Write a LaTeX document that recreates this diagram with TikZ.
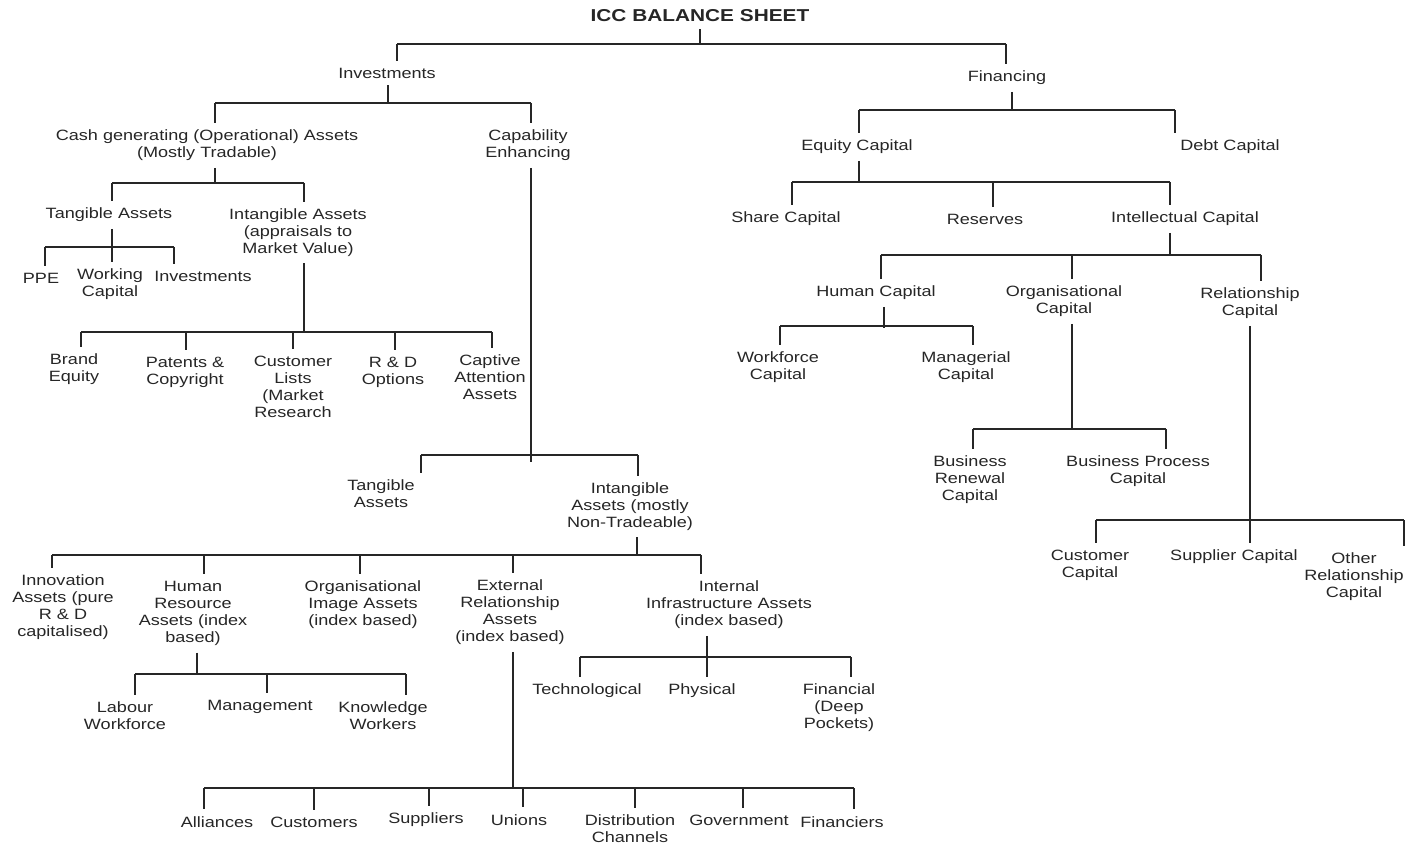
\documentclass[tikz,border=0pt]{standalone}
\usepackage{fontspec}
\setmainfont{Liberation Sans}[FakeStretch=1.21]
\definecolor{inkGray}{HTML}{262626}

\begin{document}
\begin{tikzpicture}[x=0.02cm, y=-0.02cm,
  lbl/.style={align=center, inner sep=0pt, outer ysep=4pt, text=inkGray,
              font=\fontsize{8.5}{9.64}\selectfont},
  ttl/.style={lbl, font=\fontsize{9.8}{11}\selectfont\bfseries},
  link/.style={draw=inkGray, line width=1pt}
]
\useasboundingbox (0,0) rectangle (1409,844);

% top of the sheet
\node[ttl] (title) at (700,16) {ICC BALANCE SHEET};
\node[lbl] (inv) at (387,73) {Investments};
\node[lbl] (fin) at (1007,78) {Financing};

% investments side
\node[lbl] (cash) at (207,145.5) {Cash generating (Operational) Assets\\(Mostly Tradable)};
\node[lbl] (capE) at (528,145.5) {Capability\\Enhancing};
\node[lbl] (tanA) at (109,215) {Tangible Assets};
\node[lbl] (intA) at (298,232.5) {Intangible Assets\\(appraisals to\\Market Value)};
\node[lbl] (ppe) at (41,278) {PPE};
\node[lbl] (work) at (110,284.5) {Working\\Capital};
\node[lbl] (inv2) at (203,276) {Investments};
\node[lbl] (brand) at (74,369) {Brand\\Equity};
\node[lbl] (pat) at (185,372) {Patents \&\\Copyright};
\node[lbl] (cust) at (293,386.5) {Customer\\Lists\\(Market\\Research};
\node[lbl] (rd) at (393,372) {R \& D\\Options};
\node[lbl] (capt) at (490,377.5) {Captive\\Attention\\Assets};
\node[lbl] (tan2) at (381,494) {Tangible\\Assets};
\node[lbl] (int2) at (630,506.5) {Intangible\\Assets (mostly\\Non-Tradeable)};
\node[lbl] (innov) at (63,607.5) {Innovation\\Assets (pure\\R \& D\\capitalised)};
\node[lbl] (hr) at (193,613.5) {Human\\Resource\\Assets (index\\based)};
\node[lbl] (oimg) at (363,605) {Organisational\\Image Assets\\(index based)};
\node[lbl] (ext) at (510,612.5) {External\\Relationship\\Assets\\(index based)};
\node[lbl] (intl) at (729,605) {Internal\\Infrastructure Assets\\(index based)};
\node[lbl] (lab) at (125,715.5) {Labour\\Workforce};
\node[lbl] (mgmt) at (260,707) {Management};
\node[lbl] (know) at (383,715.5) {Knowledge\\Workers};
\node[lbl] (tech) at (587,691) {Technological};
\node[lbl] (phys) at (702,691) {Physical};
\node[lbl] (finl) at (839,708) {Financial\\(Deep\\Pockets)};
\node[lbl] (alli) at (217,822) {Alliances};
\node[lbl] (custs) at (314,822) {Customers};
\node[lbl] (supp) at (426,820) {Suppliers};
\node[lbl] (uni) at (519,820) {Unions};
\node[lbl] (dist) at (630,828.5) {Distribution\\Channels};
\node[lbl] (gov) at (739,820) {Government};
\node[lbl] (fins) at (842,822) {Financiers};

% financing side
\node[lbl] (eq) at (857,147) {Equity Capital};
\node[lbl] (debt) at (1230,147) {Debt Capital};
\node[lbl] (share) at (786,219) {Share Capital};
\node[lbl] (res) at (985,219) {Reserves};
\node[lbl] (intc) at (1185,219) {Intellectual Capital};
\node[lbl] (hum) at (876,293) {Human Capital};
\node[lbl] (org) at (1064,301.5) {Organisational\\Capital};
\node[lbl] (rel) at (1250,303.5) {Relationship\\Capital};
\node[lbl] (wf) at (778,367) {Workforce\\Capital};
\node[lbl] (mg) at (966,367) {Managerial\\Capital};
\node[lbl] (ren) at (970,479.5) {Business\\Renewal\\Capital};
\node[lbl] (proc) at (1138,471.5) {Business Process\\Capital};
\node[lbl] (ccap) at (1090,565.5) {Customer\\Capital};
\node[lbl] (scap) at (1234,557) {Supplier Capital};
\node[lbl] (orel) at (1354,577) {Other\\Relationship\\Capital};

% tree lines
\draw[link] (title.south -| 700,0) -- (700,44);
\draw[link] (397,44) -- (1006,44);
\foreach \n/\x in {inv/397, fin/1006}
  \draw[link] (\x,44) -- (\n.north -| \x,0);

\draw[link] (inv.south -| 388,0) -- (388,103);
\draw[link] (215,103) -- (531,103);
\foreach \n/\x in {cash/215, capE/531}
  \draw[link] (\x,103) -- (\n.north -| \x,0);

\draw[link] (cash.south -| 215,0) -- (215,183);
\draw[link] (112,183) -- (304,183);
\foreach \n/\x in {tanA/112, intA/304}
  \draw[link] (\x,183) -- (\n.north -| \x,0);

\draw[link] (tanA.south -| 112,0) -- (112,247);
\draw[link] (45,247) -- (174,247);
\foreach \n/\x in {ppe/45, work/112, inv2/174}
  \draw[link] (\x,247) -- (\n.north -| \x,0);

\draw[link] (intA.south -| 304,0) -- (304,332);
\draw[link] (81,332) -- (492,332);
\foreach \n/\x in {brand/81, pat/186, cust/293, rd/395, capt/492}
  \draw[link] (\x,332) -- (\n.north -| \x,0);

\draw[link] (capE.south -| 531,0) -- (531,462);
\draw[link] (421,455) -- (638,455);
\foreach \n/\x in {tan2/421, int2/638}
  \draw[link] (\x,455) -- (\n.north -| \x,0);

\draw[link] (int2.south -| 637,0) -- (637,555);
\draw[link] (52,555) -- (701,555);
\foreach \n/\x in {innov/52, hr/204, oimg/360, ext/513, intl/701}
  \draw[link] (\x,555) -- (\n.north -| \x,0);

\draw[link] (hr.south -| 197,0) -- (197,674);
\draw[link] (135,674) -- (406,674);
\foreach \n/\x in {lab/135, mgmt/267, know/406}
  \draw[link] (\x,674) -- (\n.north -| \x,0);

\draw[link] (intl.south -| 707,0) -- (707,657);
\draw[link] (580,657) -- (851,657);
\foreach \n/\x in {tech/580, phys/707, finl/851}
  \draw[link] (\x,657) -- (\n.north -| \x,0);

\draw[link] (ext.south -| 513,0) -- (513,788);
\draw[link] (204,788) -- (854,788);
\foreach \n/\x in {alli/204, custs/314, supp/429, uni/523, dist/635, gov/743, fins/854}
  \draw[link] (\x,788) -- (\n.north -| \x,0);

\draw[link] (fin.south -| 1012,0) -- (1012,110);
\draw[link] (859,110) -- (1175,110);
\foreach \n/\x in {eq/859, debt/1175}
  \draw[link] (\x,110) -- (\n.north -| \x,0);

\draw[link] (eq.south -| 859,0) -- (859,182);
\draw[link] (792,182) -- (1170,182);
\foreach \n/\x in {share/792, res/993, intc/1170}
  \draw[link] (\x,182) -- (\n.north -| \x,0);

\draw[link] (intc.south -| 1170,0) -- (1170,255);
\draw[link] (881,255) -- (1261,255);
\foreach \n/\x in {hum/881, org/1072, rel/1261}
  \draw[link] (\x,255) -- (\n.north -| \x,0);

\draw[link] (hum.south -| 884,0) -- (884,328);
\draw[link] (780,326) -- (973,326);
\foreach \n/\x in {wf/780, mg/973}
  \draw[link] (\x,326) -- (\n.north -| \x,0);

\draw[link] (org.south -| 1072,0) -- (1072,429);
\draw[link] (973,429) -- (1166,429);
\foreach \n/\x in {ren/973, proc/1166}
  \draw[link] (\x,429) -- (\n.north -| \x,0);

\draw[link] (rel.south -| 1250,0) -- (1250,520);
\draw[link] (1096,520) -- (1404,520);
\foreach \n/\x in {ccap/1096, scap/1250, orel/1404}
  \draw[link] (\x,520) -- (\n.north -| \x,0);
\end{tikzpicture}
\end{document}
